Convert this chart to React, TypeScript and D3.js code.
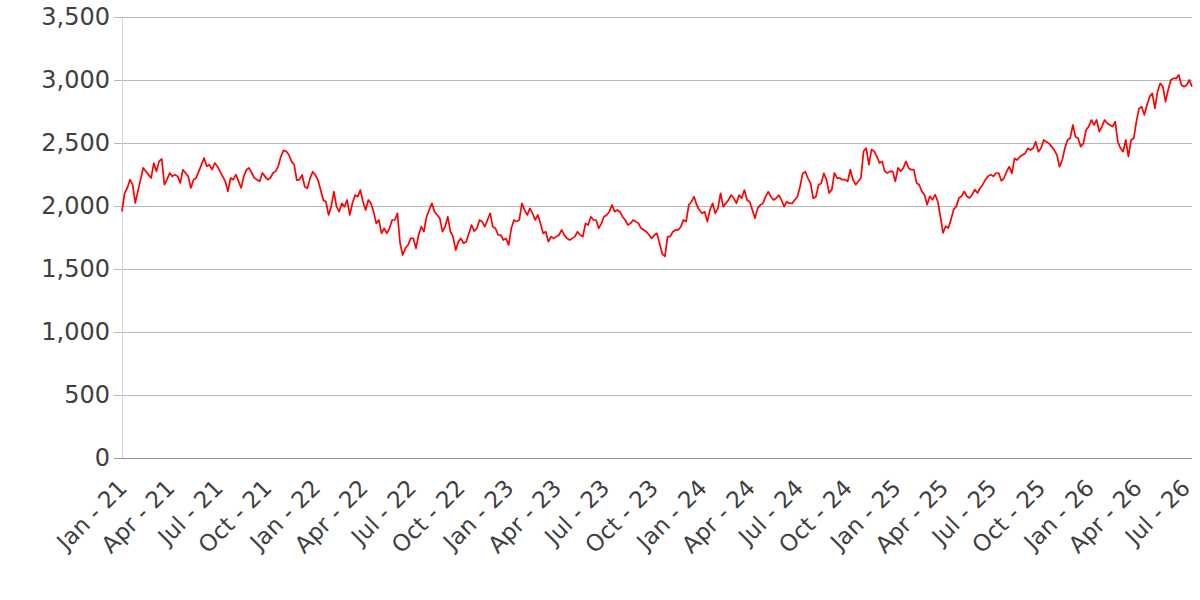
import React from "react";
import * as d3 from "d3";

const START_DATE = "2021-01-01";
const STEP_DAYS = 5;

const values: number[] = [
  1958, 2103, 2143, 2209, 2169, 2024, 2116, 2209, 2302, 2275,
  2249, 2222, 2341, 2275, 2354, 2373, 2169, 2209, 2262, 2235,
  2249, 2235, 2183, 2288, 2262, 2235, 2143, 2209, 2222, 2275,
  2328, 2381, 2315, 2328, 2288, 2341, 2315, 2275, 2235, 2196,
  2116, 2222, 2209, 2249, 2196, 2143, 2235, 2288, 2302, 2262,
  2222, 2209, 2196, 2262, 2235, 2209, 2222, 2262, 2275, 2315,
  2394, 2442, 2434, 2407, 2354, 2328, 2206, 2209, 2246, 2153,
  2140, 2220, 2272, 2246, 2206, 2127, 2048, 2034, 1929, 1995,
  2114, 1995, 1955, 2021, 1995, 2048, 1929, 2021, 2087, 2074,
  2127, 2034, 1968, 2048, 2021, 1955, 1862, 1889, 1783, 1823,
  1783, 1823, 1889, 1889, 1942, 1704, 1611, 1664, 1690, 1743,
  1743, 1664, 1770, 1836, 1796, 1915, 1968, 2021, 1955, 1929,
  1902, 1796, 1836, 1915, 1796, 1757, 1650, 1717, 1743, 1704,
  1717, 1783, 1849, 1800, 1823, 1889, 1876, 1836, 1889, 1942,
  1836, 1823, 1770, 1770, 1730, 1743, 1690, 1823, 1889, 1876,
  1889, 2021, 1968, 1929, 1981, 1942, 1889, 1929, 1862, 1783,
  1796, 1717, 1757, 1743, 1757, 1770, 1810, 1770, 1743, 1730,
  1743, 1757, 1796, 1770, 1757, 1862, 1849, 1915, 1889, 1889,
  1823, 1862, 1915, 1929, 1955, 2008, 1955, 1968, 1955, 1915,
  1889, 1849, 1862, 1889, 1876, 1862, 1823, 1810, 1796, 1770,
  1743, 1770, 1783, 1700, 1620, 1600, 1757, 1757, 1796, 1810,
  1810, 1836, 1889, 1876, 2008, 2034, 2074, 2008, 1968, 1942,
  1955, 1876, 1968, 2021, 1942, 1981, 2101, 1995, 2021, 2048,
  2087, 2061, 2021, 2087, 2061, 2127, 2048, 2034, 1968, 1902,
  1981, 2008, 2021, 2074, 2114, 2074, 2048, 2061, 2087, 2048,
  1995, 2034, 2021, 2021, 2048, 2074, 2153, 2259, 2272, 2220,
  2180, 2061, 2074, 2167, 2180, 2259, 2209, 2103, 2130, 2262,
  2222, 2222, 2209, 2209, 2196, 2288, 2209, 2169, 2196, 2222,
  2434, 2460, 2328, 2447, 2434, 2394, 2341, 2354, 2275, 2262,
  2275, 2275, 2196, 2302, 2275, 2302, 2354, 2302, 2288, 2288,
  2183, 2169, 2116, 2090, 2010, 2077, 2050, 2090, 2037, 1918,
  1786, 1839, 1825, 1892, 1971, 1997, 2063, 2077, 2116, 2077,
  2063, 2090, 2130, 2103, 2143, 2169, 2209, 2235, 2249, 2235,
  2262, 2262, 2200, 2220, 2272, 2312, 2259, 2378, 2365, 2391,
  2405, 2418, 2458, 2444, 2458, 2510, 2431, 2458, 2524, 2510,
  2497, 2471, 2444, 2405, 2312, 2365, 2458, 2524, 2537, 2643,
  2550, 2537, 2471, 2497, 2603, 2630, 2683, 2643, 2683, 2590,
  2630, 2683, 2656, 2643, 2630, 2669, 2510, 2458, 2431, 2524,
  2391, 2524, 2537, 2669, 2775, 2788, 2722, 2801, 2868, 2894,
  2775, 2907, 2974, 2947, 2828, 2921, 3000, 3013, 3013, 3040,
  2960, 2947, 2960, 3000, 2947,
];

const yTickValues = [0, 500, 1000, 1500, 2000, 2500, 3000, 3500];
const xTickStart = "2021-01-01";
const xTickEnd = "2026-07-01";

const W = 1200;
const H = 600;
const LEFT = 122;
const RIGHT = 1192;
const TOP = 17;
const BOTTOM = 458;
const FONT = "'DejaVu Sans', sans-serif";
const TEXT = "#404040";

export default function App() {
  const parse = d3.timeParse("%Y-%m-%d");
  const start = parse(START_DATE)!;
  const data = values.map((v, i) => ({ date: d3.timeDay.offset(start, i * STEP_DAYS), value: v }));

  const x = d3
    .scaleTime()
    .domain([data[0].date, data[data.length - 1].date])
    .range([LEFT, RIGHT]);
  const y = d3.scaleLinear().domain([0, 3500]).range([BOTTOM, TOP]);

  const xTicks = d3.timeMonth.every(3)!.range(parse(xTickStart)!, d3.timeDay.offset(parse(xTickEnd)!, 1));
  const fmtX = d3.timeFormat("%b - %y");
  const fmtY = d3.format(",");

  const line = d3
    .line<{ date: Date; value: number }>()
    .x((d) => x(d.date))
    .y((d) => y(d.value));

  return (
    <div style={{ position: "absolute", left: 0, top: 0 }}>
      <svg width={W} height={H} style={{ display: "block", background: "#fff" }}>
        {yTickValues.map((t) => (
          <line
            key={"g" + t}
            x1={LEFT - 8}
            x2={RIGHT}
            y1={Math.round(y(t)) + 0.5}
            y2={Math.round(y(t)) + 0.5}
            stroke={t === 0 ? "#999" : "#b8b8b8"}
            strokeWidth={1}
          />
        ))}
        <line x1={LEFT + 0.5} x2={LEFT + 0.5} y1={TOP} y2={BOTTOM} stroke="#d6d6d6" strokeWidth={1} />
        {yTickValues.map((t) => (
          <text
            key={"yl" + t}
            x={LEFT - 12}
            y={y(t)}
            dy="0.35em"
            textAnchor="end"
            fontFamily={FONT}
            fontSize={24}
            fill={TEXT}
          >
            {fmtY(t)}
          </text>
        ))}
        {xTicks.map((d) => (
          <text
            key={"xl" + d.getTime()}
            transform={`translate(${x(d) - 5},${BOTTOM + 20}) rotate(-45)`}
            textAnchor="end"
            dy="0.7em"
            fontFamily={FONT}
            fontSize={23}
            fill={TEXT}
          >
            {fmtX(d)}
          </text>
        ))}
        <path d={line(data) ?? ""} fill="none" stroke="#ff0000" strokeWidth={1.7} strokeLinejoin="round" />
      </svg>
    </div>
  );
}
